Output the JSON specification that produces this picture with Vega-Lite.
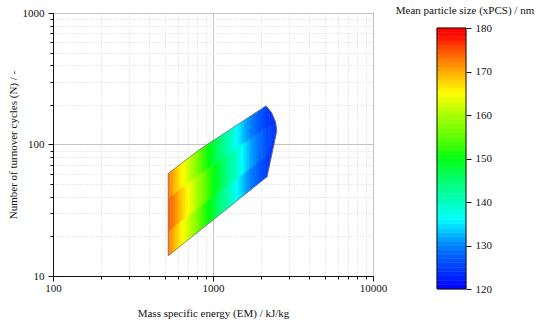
{
  "$schema": "https://vega.github.io/schema/vega-lite/v6.json",
  "background": "white",
  "padding": {"left": 6, "top": 5, "right": 5, "bottom": 5},
  "config": {
    "font": "Liberation Serif",
    "view": {"stroke": "#111111", "strokeWidth": 1},
    "axis": {"labelFont": "Liberation Serif", "titleFont": "Liberation Serif", "labelFontSize": 11, "titleFontSize": 11, "titleFontWeight": "normal", "labelColor": "#111111", "titleColor": "#111111", "domainColor": "#111111", "tickColor": "#111111", "domainWidth": 1, "tickWidth": 1},
    "title": {"font": "Liberation Serif", "fontSize": 11, "fontWeight": "normal", "color": "#111111"}
  },
  "datasets": {
    "strips": [
      {"s":1,"x":525.6,"t":60.18,"m2":39.08,"m1":21.97,"b":14.27,"e":172.1,"m":174.0},
      {"s":1,"x":543.6,"t":62.11,"m2":40.35,"m1":22.70,"b":14.75,"e":172.1,"m":174.0},
      {"s":2,"x":543.6,"t":62.11,"m2":40.35,"m1":22.70,"b":14.75,"e":171.0,"m":173.2},
      {"s":2,"x":562.3,"t":64.10,"m2":41.66,"m1":23.45,"b":15.24,"e":171.0,"m":173.2},
      {"s":3,"x":562.3,"t":64.10,"m2":41.66,"m1":23.45,"b":15.24,"e":169.5,"m":172.2},
      {"s":3,"x":582.9,"t":66.28,"m2":43.10,"m1":24.28,"b":15.78,"e":169.5,"m":172.2},
      {"s":4,"x":582.9,"t":66.28,"m2":43.10,"m1":24.28,"b":15.78,"e":168.2,"m":171.0},
      {"s":4,"x":604.3,"t":68.53,"m2":44.58,"m1":25.13,"b":16.34,"e":168.2,"m":171.0},
      {"s":5,"x":604.3,"t":68.53,"m2":44.58,"m1":25.13,"b":16.34,"e":166.9,"m":169.5},
      {"s":5,"x":626.4,"t":70.87,"m2":46.12,"m1":26.01,"b":16.93,"e":166.9,"m":169.5},
      {"s":6,"x":626.4,"t":70.87,"m2":46.12,"m1":26.01,"b":16.93,"e":165.6,"m":168.2},
      {"s":6,"x":649.4,"t":73.28,"m2":47.72,"m1":26.93,"b":17.53,"e":165.6,"m":168.2},
      {"s":7,"x":649.4,"t":73.28,"m2":47.72,"m1":26.93,"b":17.53,"e":164.4,"m":166.9},
      {"s":7,"x":673.2,"t":75.77,"m2":49.37,"m1":27.87,"b":18.16,"e":164.4,"m":166.9},
      {"s":8,"x":673.2,"t":75.77,"m2":49.37,"m1":27.87,"b":18.16,"e":163.1,"m":165.6},
      {"s":8,"x":697.8,"t":78.35,"m2":51.07,"m1":28.85,"b":18.81,"e":163.1,"m":165.6},
      {"s":9,"x":697.8,"t":78.35,"m2":51.07,"m1":28.85,"b":18.81,"e":161.8,"m":164.4},
      {"s":9,"x":723.4,"t":81.02,"m2":52.83,"m1":29.87,"b":19.48,"e":161.8,"m":164.4},
      {"s":10,"x":723.4,"t":81.02,"m2":52.83,"m1":29.87,"b":19.48,"e":160.4,"m":163.1},
      {"s":10,"x":749.9,"t":83.79,"m2":54.66,"m1":30.92,"b":20.17,"e":160.4,"m":163.1},
      {"s":11,"x":749.9,"t":83.79,"m2":54.66,"m1":30.92,"b":20.17,"e":158.8,"m":161.6},
      {"s":11,"x":783.0,"t":87.23,"m2":56.93,"m1":32.23,"b":21.04,"e":158.8,"m":161.6},
      {"s":12,"x":783.0,"t":87.23,"m2":56.93,"m1":32.23,"b":21.04,"e":157.0,"m":159.9},
      {"s":12,"x":817.5,"t":90.82,"m2":59.30,"m1":33.60,"b":21.94,"e":157.0,"m":159.9},
      {"s":13,"x":817.5,"t":90.82,"m2":59.30,"m1":33.60,"b":21.94,"e":155.1,"m":158.2},
      {"s":13,"x":853.6,"t":94.00,"m2":61.52,"m1":34.96,"b":22.88,"e":155.1,"m":158.2},
      {"s":14,"x":853.6,"t":94.00,"m2":61.52,"m1":34.96,"b":22.88,"e":153.2,"m":156.4},
      {"s":14,"x":891.3,"t":97.30,"m2":63.83,"m1":36.38,"b":23.86,"e":153.2,"m":156.4},
      {"s":15,"x":891.3,"t":97.30,"m2":63.83,"m1":36.38,"b":23.86,"e":151.6,"m":154.5},
      {"s":15,"x":930.6,"t":100.71,"m2":66.22,"m1":37.86,"b":24.89,"e":151.6,"m":154.5},
      {"s":16,"x":930.6,"t":100.71,"m2":66.22,"m1":37.86,"b":24.89,"e":150.1,"m":152.7},
      {"s":16,"x":971.6,"t":104.25,"m2":68.70,"m1":39.39,"b":25.96,"e":150.1,"m":152.7},
      {"s":17,"x":971.6,"t":104.25,"m2":68.70,"m1":39.39,"b":25.96,"e":148.6,"m":151.1},
      {"s":17,"x":1014.5,"t":107.92,"m2":71.28,"m1":40.99,"b":27.07,"e":148.6,"m":151.1},
      {"s":18,"x":1014.5,"t":107.92,"m2":71.28,"m1":40.99,"b":27.07,"e":147.0,"m":149.6},
      {"s":18,"x":1059.3,"t":111.72,"m2":73.96,"m1":42.66,"b":28.23,"e":147.0,"m":149.6},
      {"s":19,"x":1059.3,"t":111.72,"m2":73.96,"m1":42.66,"b":28.23,"e":145.5,"m":148.1},
      {"s":19,"x":1106.0,"t":115.64,"m2":76.72,"m1":44.39,"b":29.44,"e":145.5,"m":148.1},
      {"s":20,"x":1106.0,"t":115.64,"m2":76.72,"m1":44.39,"b":29.44,"e":144.0,"m":146.5},
      {"s":20,"x":1154.8,"t":119.70,"m2":79.58,"m1":46.19,"b":30.71,"e":144.0,"m":146.5},
      {"s":21,"x":1154.8,"t":119.70,"m2":79.58,"m1":46.19,"b":30.71,"e":142.5,"m":145.0},
      {"s":21,"x":1205.7,"t":123.90,"m2":82.56,"m1":48.06,"b":32.03,"e":142.5,"m":145.0},
      {"s":22,"x":1205.7,"t":123.90,"m2":82.56,"m1":48.06,"b":32.03,"e":141.1,"m":143.5},
      {"s":22,"x":1258.9,"t":128.25,"m2":85.66,"m1":50.01,"b":33.40,"e":141.1,"m":143.5},
      {"s":23,"x":1258.9,"t":128.25,"m2":85.66,"m1":50.01,"b":33.40,"e":139.7,"m":142.0},
      {"s":23,"x":1314.5,"t":132.75,"m2":88.87,"m1":52.04,"b":34.83,"e":139.7,"m":142.0},
      {"s":24,"x":1314.5,"t":132.75,"m2":88.87,"m1":52.04,"b":34.83,"e":138.2,"m":140.6},
      {"s":24,"x":1372.5,"t":137.41,"m2":92.20,"m1":54.15,"b":36.33,"e":138.2,"m":140.6},
      {"s":25,"x":1372.5,"t":137.41,"m2":92.20,"m1":54.15,"b":36.33,"e":136.7,"m":139.2},
      {"s":25,"x":1433.0,"t":142.23,"m2":95.65,"m1":56.35,"b":37.89,"e":136.7,"m":139.2},
      {"s":26,"x":1433.0,"t":142.23,"m2":95.65,"m1":56.35,"b":37.89,"e":135.1,"m":137.7},
      {"s":26,"x":1496.2,"t":147.22,"m2":99.23,"m1":58.63,"b":39.52,"e":135.1,"m":137.7},
      {"s":27,"x":1496.2,"t":147.22,"m2":99.23,"m1":58.63,"b":39.52,"e":133.6,"m":136.2},
      {"s":27,"x":1562.2,"t":152.40,"m2":102.95,"m1":61.01,"b":41.21,"e":133.6,"m":136.2},
      {"s":28,"x":1562.2,"t":152.40,"m2":102.95,"m1":61.01,"b":41.21,"e":132.1,"m":134.6},
      {"s":28,"x":1631.2,"t":157.77,"m2":106.81,"m1":63.49,"b":42.98,"e":132.1,"m":134.6},
      {"s":29,"x":1631.2,"t":157.77,"m2":106.81,"m1":63.49,"b":42.98,"e":131.0,"m":133.1},
      {"s":29,"x":1703.2,"t":163.31,"m2":110.81,"m1":66.07,"b":44.83,"e":131.0,"m":133.1},
      {"s":30,"x":1703.2,"t":163.31,"m2":110.81,"m1":66.07,"b":44.83,"e":129.8,"m":131.7},
      {"s":30,"x":1778.3,"t":169.04,"m2":114.96,"m1":68.76,"b":46.76,"e":129.8,"m":131.7},
      {"s":31,"x":1778.3,"t":169.04,"m2":114.96,"m1":68.76,"b":46.76,"e":128.8,"m":130.6},
      {"s":31,"x":1856.8,"t":174.97,"m2":119.26,"m1":71.55,"b":48.77,"e":128.8,"m":130.6},
      {"s":32,"x":1856.8,"t":174.97,"m2":119.26,"m1":71.55,"b":48.77,"e":127.7,"m":129.5},
      {"s":32,"x":1938.7,"t":181.11,"m2":123.73,"m1":74.45,"b":50.86,"e":127.7,"m":129.5},
      {"s":33,"x":1938.7,"t":181.11,"m2":123.73,"m1":74.45,"b":50.86,"e":126.6,"m":128.3},
      {"s":33,"x":2038.9,"t":188.52,"m2":129.14,"m1":77.99,"b":53.42,"e":126.6,"m":128.3},
      {"s":34,"x":2038.9,"t":188.52,"m2":129.14,"m1":77.99,"b":53.42,"e":125.5,"m":127.1},
      {"s":34,"x":2144.2,"t":196.23,"m2":134.79,"m1":81.69,"b":56.11,"e":125.5,"m":127.1},
      {"s":35,"x":2144.2,"t":196.23,"m2":134.79,"m1":81.69,"b":56.11,"e":125.0,"m":126.4},
      {"s":35,"x":2175.2,"t":192.22,"m2":133.40,"m1":81.99,"b":56.90,"e":125.0,"m":126.4},
      {"s":36,"x":2175.2,"t":192.22,"m2":133.40,"m1":81.99,"b":56.90,"e":124.6,"m":125.9},
      {"s":36,"x":2246.8,"t":183.47,"m2":136.52,"m1":92.07,"b":68.52,"e":124.6,"m":125.9},
      {"s":37,"x":2246.8,"t":183.47,"m2":136.52,"m1":92.07,"b":68.52,"e":124.0,"m":125.2},
      {"s":37,"x":2320.7,"t":175.12,"m2":139.71,"m1":103.38,"b":82.48,"e":124.0,"m":125.2},
      {"s":38,"x":2320.7,"t":175.12,"m2":139.71,"m1":103.38,"b":82.48,"e":123.8,"m":124.8},
      {"s":38,"x":2388.5,"t":161.15,"m2":138.48,"m1":113.15,"b":97.24,"e":123.8,"m":124.8},
      {"s":39,"x":2388.5,"t":161.15,"m2":138.48,"m1":113.15,"b":97.24,"e":123.4,"m":124.2},
      {"s":39,"x":2458.2,"t":148.29,"m2":137.27,"m1":123.84,"b":114.63,"e":123.4,"m":124.2},
      {"s":40,"x":2458.2,"t":148.29,"m2":137.27,"m1":123.84,"b":114.63,"e":123.0,"m":123.8},
      {"s":40,"x":2501.1,"t":126.67,"m2":126.67,"m1":126.67,"b":126.67,"e":123.0,"m":123.8}
    ],
    "outline": [
      {"o":1,"x":525.6,"y":14.27},
      {"o":2,"x":525.6,"y":60.18},
      {"o":3,"x":817.5,"y":90.82},
      {"o":4,"x":2144.2,"y":196.23},
      {"o":5,"x":2320.7,"y":175.12},
      {"o":6,"x":2458.2,"y":148.29},
      {"o":7,"x":2501.1,"y":126.67},
      {"o":8,"x":2175.2,"y":56.9},
      {"o":9,"x":525.6,"y":14.27}
    ],
    "frame": [{"lo":120,"hi":180}],
    "bar": [
      {"lo":120,"hi":121,"c":120.5},{"lo":121,"hi":122,"c":121.5},{"lo":122,"hi":123,"c":122.5},{"lo":123,"hi":124,"c":123.5},{"lo":124,"hi":125,"c":124.5},
      {"lo":125,"hi":126,"c":125.5},{"lo":126,"hi":127,"c":126.5},{"lo":127,"hi":128,"c":127.5},{"lo":128,"hi":129,"c":128.5},{"lo":129,"hi":130,"c":129.5},
      {"lo":130,"hi":131,"c":130.5},{"lo":131,"hi":132,"c":131.5},{"lo":132,"hi":133,"c":132.5},{"lo":133,"hi":134,"c":133.5},{"lo":134,"hi":135,"c":134.5},
      {"lo":135,"hi":136,"c":135.5},{"lo":136,"hi":137,"c":136.5},{"lo":137,"hi":138,"c":137.5},{"lo":138,"hi":139,"c":138.5},{"lo":139,"hi":140,"c":139.5},
      {"lo":140,"hi":141,"c":140.5},{"lo":141,"hi":142,"c":141.5},{"lo":142,"hi":143,"c":142.5},{"lo":143,"hi":144,"c":143.5},{"lo":144,"hi":145,"c":144.5},
      {"lo":145,"hi":146,"c":145.5},{"lo":146,"hi":147,"c":146.5},{"lo":147,"hi":148,"c":147.5},{"lo":148,"hi":149,"c":148.5},{"lo":149,"hi":150,"c":149.5},
      {"lo":150,"hi":151,"c":150.5},{"lo":151,"hi":152,"c":151.5},{"lo":152,"hi":153,"c":152.5},{"lo":153,"hi":154,"c":153.5},{"lo":154,"hi":155,"c":154.5},
      {"lo":155,"hi":156,"c":155.5},{"lo":156,"hi":157,"c":156.5},{"lo":157,"hi":158,"c":157.5},{"lo":158,"hi":159,"c":158.5},{"lo":159,"hi":160,"c":159.5},
      {"lo":160,"hi":161,"c":160.5},{"lo":161,"hi":162,"c":161.5},{"lo":162,"hi":163,"c":162.5},{"lo":163,"hi":164,"c":163.5},{"lo":164,"hi":165,"c":164.5},
      {"lo":165,"hi":166,"c":165.5},{"lo":166,"hi":167,"c":166.5},{"lo":167,"hi":168,"c":167.5},{"lo":168,"hi":169,"c":168.5},{"lo":169,"hi":170,"c":169.5},
      {"lo":170,"hi":171,"c":170.5},{"lo":171,"hi":172,"c":171.5},{"lo":172,"hi":173,"c":172.5},{"lo":173,"hi":174,"c":173.5},{"lo":174,"hi":175,"c":174.5},
      {"lo":175,"hi":176,"c":175.5},{"lo":176,"hi":177,"c":176.5},{"lo":177,"hi":178,"c":177.5},{"lo":178,"hi":179,"c":178.5},{"lo":179,"hi":180,"c":179.5}
    ]
  },
  "resolve": {"scale": {"x": "independent", "y": "independent"}},
  "spacing": 6,
  "hconcat": [
    {
      "width": 320,
      "height": 263,
      "layer": [
        {
          "data": {"name": "strips"},
          "mark": {"type": "area", "orient": "vertical", "strokeWidth": 0.6},
          "encoding": {
            "x": {"field": "x", "type": "quantitative", "scale": {"type": "log", "domain": [100, 10000], "nice": false},
              "axis": {"title": "Mass specific energy (EM) / kJ/kg", "values": [100,200,300,400,500,600,700,800,900,1000,2000,3000,4000,5000,6000,7000,8000,9000,10000], "format": "d",
                "labelExpr": "indexof([100,1000,10000], datum.value) >= 0 ? datum.label : ''",
                "tickSize": {"condition": {"test": "indexof([100,1000,10000], datum.value) >= 0", "value": 5}, "value": 3},
                "gridColor": {"condition": {"test": "indexof([100,1000,10000], datum.value) >= 0", "value": "#c4c4c4"}, "value": "#e4e4e4"},
                "gridDash": {"condition": {"test": "indexof([100,1000,10000], datum.value) >= 0", "value": []}, "value": [1.5, 1.5]},
                "labelPadding": 1, "titlePadding": 14, "labelOverlap": false, "labelFlush": false}},
            "y": {"field": "m1", "type": "quantitative", "stack": null, "scale": {"type": "log", "domain": [10, 1000], "nice": false},
              "axis": {"title": "Number of turnover cycles (N) / -", "values": [10,20,30,40,50,60,70,80,90,100,200,300,400,500,600,700,800,900,1000], "format": "d",
                "labelExpr": "indexof([10,100,1000], datum.value) >= 0 ? datum.label : ''",
                "tickSize": {"condition": {"test": "indexof([10,100,1000], datum.value) >= 0", "value": 5}, "value": 3},
                "gridColor": {"condition": {"test": "indexof([10,100,1000], datum.value) >= 0", "value": "#c4c4c4"}, "value": "#e4e4e4"},
                "gridDash": {"condition": {"test": "indexof([10,100,1000], datum.value) >= 0", "value": []}, "value": [1.5, 1.5]},
                "labelPadding": 4, "titlePadding": 4, "labelOverlap": false, "labelFlush": false}},
            "y2": {"field": "b"},
            "fill": {"field": "e", "type": "quantitative", "legend": null, "scale": {"type": "linear", "domain": [120,125,130,136,140,145,150,155,160,165,170,175,178,180], "range": ["#0000ff","#0040ff","#0080ff","#00ffff","#00ffbb","#00ff70","#00ff10","#60ff00","#a8ff00","#ffff00","#ffaa00","#ff5000","#ff1000","#ff0000"], "interpolate": "rgb"}},
            "stroke": {"field": "e", "type": "quantitative", "legend": null, "scale": {"type": "linear", "domain": [120,125,130,136,140,145,150,155,160,165,170,175,178,180], "range": ["#0000ff","#0040ff","#0080ff","#00ffff","#00ffbb","#00ff70","#00ff10","#60ff00","#a8ff00","#ffff00","#ffaa00","#ff5000","#ff1000","#ff0000"], "interpolate": "rgb"}},
            "detail": {"field": "s", "type": "nominal"}
          }
        },
        {
          "data": {"name": "strips"},
          "mark": {"type": "area", "orient": "vertical", "strokeWidth": 0.6},
          "encoding": {
            "x": {"field": "x", "type": "quantitative"},
            "y": {"field": "m2", "type": "quantitative", "stack": null},
            "y2": {"field": "m1"},
            "fill": {"field": "m", "type": "quantitative", "legend": null},
            "stroke": {"field": "m", "type": "quantitative", "legend": null},
            "detail": {"field": "s", "type": "nominal"}
          }
        },
        {
          "data": {"name": "strips"},
          "mark": {"type": "area", "orient": "vertical", "strokeWidth": 0.6},
          "encoding": {
            "x": {"field": "x", "type": "quantitative"},
            "y": {"field": "t", "type": "quantitative", "stack": null},
            "y2": {"field": "m2"},
            "fill": {"field": "e", "type": "quantitative", "legend": null},
            "stroke": {"field": "e", "type": "quantitative", "legend": null},
            "detail": {"field": "s", "type": "nominal"}
          }
        },
        {
          "data": {"name": "outline"},
          "mark": {"type": "line", "color": "#7a7a7a", "strokeWidth": 0.8},
          "encoding": {
            "x": {"field": "x", "type": "quantitative"},
            "y": {"field": "y", "type": "quantitative"},
            "order": {"field": "o", "type": "quantitative"}
          }
        }
      ]
    },
    {
      "width": 29,
      "height": 276,
      "view": {"stroke": null},
      "title": {"text": "Mean particle size  (xPCS) / nm", "anchor": "middle", "dx": 13.5, "offset": -3, "fontSize": 11, "fontWeight": "normal"},
      "layer": [
        {
          "data": {"name": "bar"},
          "mark": {"type": "rect", "strokeWidth": 0.5},
          "encoding": {
            "y": {"field": "lo", "type": "quantitative", "scale": {"domain": [120, 183.45], "nice": false, "zero": false},
              "axis": {"orient": "right", "values": [120,130,140,150,160,170,180], "title": null, "tickSize": 5, "labelPadding": 4, "domain": false, "grid": false}},
            "y2": {"field": "hi"},
            "fill": {"field": "c", "type": "quantitative", "legend": null, "scale": {"type": "linear", "domain": [120,125,130,136,140,145,150,155,160,165,170,175,178,180], "range": ["#0000ff","#0040ff","#0080ff","#00ffff","#00ffbb","#00ff70","#00ff10","#60ff00","#a8ff00","#ffff00","#ffaa00","#ff5000","#ff1000","#ff0000"], "interpolate": "rgb"}},
            "stroke": {"field": "c", "type": "quantitative", "legend": null, "scale": {"type": "linear", "domain": [120,125,130,136,140,145,150,155,160,165,170,175,178,180], "range": ["#0000ff","#0040ff","#0080ff","#00ffff","#00ffbb","#00ff70","#00ff10","#60ff00","#a8ff00","#ffff00","#ffaa00","#ff5000","#ff1000","#ff0000"], "interpolate": "rgb"}}
          }
        },
        {
          "data": {"name": "frame"},
          "mark": {"type": "rect", "fill": null, "stroke": "#111111", "strokeWidth": 1},
          "encoding": {
            "y": {"field": "lo", "type": "quantitative"},
            "y2": {"field": "hi"}
          }
        }
      ]
    }
  ]
}
